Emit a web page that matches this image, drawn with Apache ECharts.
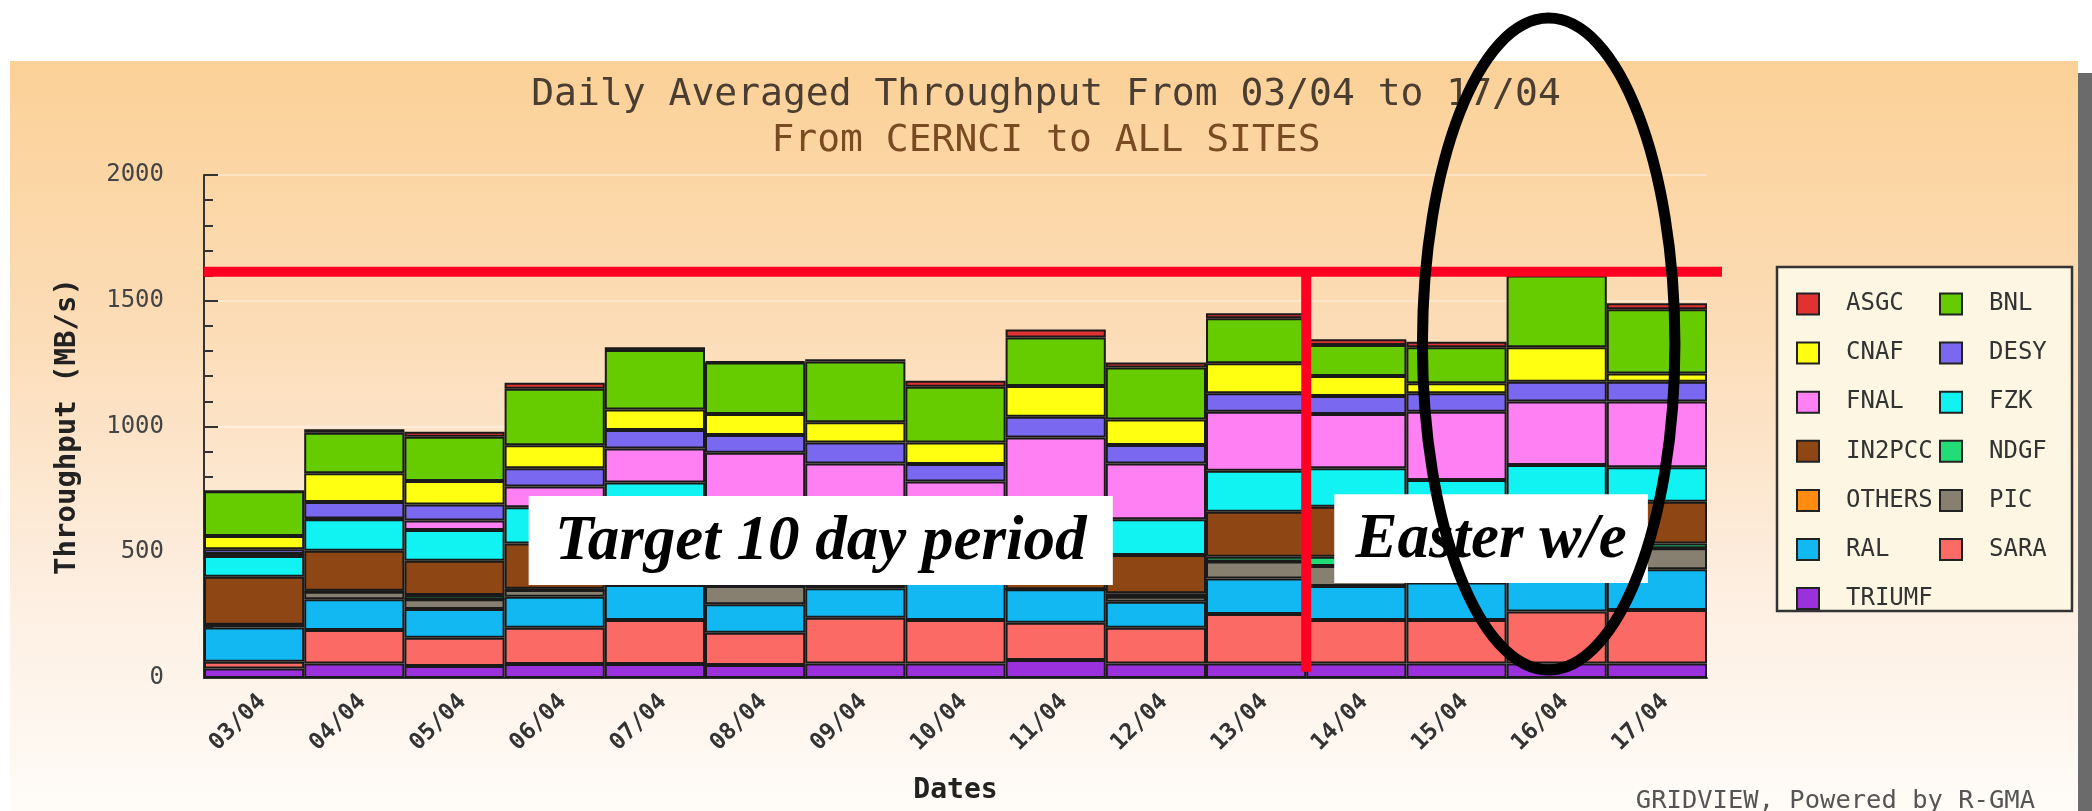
<!DOCTYPE html>
<html>
<head>
<meta charset="utf-8">
<script src="https://cdn.jsdelivr.net/npm/echarts@6/dist/echarts.min.js"></script>
<style>
  html, body { margin: 0; padding: 0; background: #fff; }
  #chart { width: 2092px; height: 811px; }
</style>
</head>
<body>
<div id="chart"></div>
<script>
// days on the x axis
const dates = ['03/04','04/04','05/04','06/04','07/04','08/04','09/04','10/04','11/04','12/04','13/04','14/04','15/04','16/04','17/04'];

// daily averaged throughput per site (MB/s)
const TRIUMF = [38, 58, 48, 56, 56, 52, 58, 58, 72, 58, 58, 58, 58, 58, 58];
const SARA   = [27, 133, 112, 144, 175, 128, 182, 173, 148, 142, 196, 173, 173, 206, 212];
const RAL    = [136, 122, 114, 123, 139, 113, 117, 149, 133, 103, 142, 135, 149, 168, 162];
const PIC    = [8, 30, 39, 27, 20, 73, 15, 10, 0, 20, 67, 79, 70, 84, 84];
const OTHERS = [0, 0, 0, 0, 0, 0, 0, 0, 0, 0, 0, 0, 0, 0, 0];
const NDGF   = [3, 4, 17, 5, 0, 0, 0, 0, 0, 14, 19, 37, 25, 19, 19];
const IN2PCC = [191, 159, 136, 180, 230, 120, 130, 120, 130, 152, 179, 199, 185, 155, 166];
const FZK    = [82, 125, 122, 144, 157, 110, 100, 110, 120, 142, 163, 153, 127, 157, 137];
const FNAL   = [8, 3, 38, 82, 136, 300, 251, 161, 353, 222, 235, 216, 272, 252, 261];
const DESY   = [19, 66, 64, 73, 73, 70, 83, 70, 83, 73, 73, 71, 73, 79, 79];
const CNAF   = [53, 114, 93, 91, 82, 84, 81, 85, 122, 102, 119, 80, 40, 137, 33];
const BNL    = [178, 161, 176, 225, 236, 204, 241, 222, 193, 207, 179, 123, 143, 285, 255];
const ASGC   = [0, 14, 20, 24, 11, 4, 9, 24, 32, 19, 20, 23, 22, 0, 24];

const yTicks = [0, 500, 1000, 1500, 2000];

// hand drawn annotations (x in day slots 0..15, y in MB/s)
const targetLine = [[0, 1615], [15.15, 1615]];
const easterLine = [[11, 1615], [11, 25]];
const targetBox = {x0: 3.24, x1: 9.07, y0: 370, y1: 724, text: 'Target 10 day period'};
const easterBox = {x0: 11.28, x1: 14.41, y0: 378, y1: 731, text: 'Easter w/e'};
const easterRing = {cx: 13.42, cy: 1328, rx: 1.26, ry: 1296};

const siteValues = {TRIUMF, SARA, RAL, PIC, OTHERS, NDGF, IN2PCC, FZK, FNAL, DESY, CNAF, BNL, ASGC};
const siteColors = {
  ASGC: '#e03232', BNL: '#66cc00', CNAF: '#ffff11', DESY: '#7a68f0',
  FNAL: '#ff80f2', FZK: '#11f2f2', IN2PCC: '#8e4614', NDGF: '#22dd77',
  OTHERS: '#ff8c11', PIC: '#878070', RAL: '#11b8f2', SARA: '#fb6a64', TRIUMF: '#9b30dd'
};
// bottom of the stack first
const stackOrder = ['TRIUMF','SARA','RAL','PIC','OTHERS','NDGF','IN2PCC','FZK','FNAL','DESY','CNAF','BNL','ASGC'];
const legendLeft = ['ASGC','CNAF','FNAL','IN2PCC','OTHERS','RAL','TRIUMF'];
const legendRight = ['BNL','DESY','FZK','NDGF','PIC','SARA'];

const mono = 'DejaVu Sans Mono';

const chart = echarts.init(document.getElementById('chart'));

const legendStyle = {
  orient: 'vertical',
  top: 292,
  padding: 0,
  itemWidth: 22,
  itemHeight: 21,
  itemGap: 25.1,
  icon: 'rect',
  selectedMode: false,
  itemStyle: {borderColor: '#222', borderWidth: 2},
  textStyle: {fontFamily: mono, fontSize: 24, color: '#333', lineHeight: 21, padding: [0, 0, 0, 22]}
};

const barSeries = stackOrder.map(name => ({
  name: name,
  type: 'bar',
  stack: 'sites',
  data: siteValues[name],
  barWidth: '100%',
  barCategoryGap: '0%',
  silent: true,
  itemStyle: {color: siteColors[name], borderColor: '#1a1a1a', borderWidth: 2}
}));

chart.setOption({
  animation: false,
  backgroundColor: '#ffffff',
  title: [
    {text: 'Daily Averaged Throughput From 03/04 to 17/04', left: 'center', top: 76, padding: 0,
     textStyle: {fontFamily: mono, fontSize: 38, fontWeight: 'normal', color: '#4a3d31'}},
    {text: 'From CERNCI to ALL SITES', left: 'center', top: 122, padding: 0,
     textStyle: {fontFamily: mono, fontSize: 38, fontWeight: 'normal', color: '#7a4b20'}},
    {text: 'GRIDVIEW, Powered by R-GMA', right: 57, top: 788, padding: 0,
     textStyle: {fontFamily: mono, fontSize: 25.5, fontWeight: 'normal', color: '#555'}}
  ],
  legend: [
    Object.assign({left: 1796, data: legendLeft}, legendStyle),
    Object.assign({left: 1939, data: legendRight}, legendStyle)
  ],
  grid: {left: 204, right: 385, top: 175, bottom: 133, containLabel: false},
  xAxis: [
    {
      type: 'category',
      data: dates,
      name: 'Dates',
      nameLocation: 'middle',
      nameGap: 99,
      nameTextStyle: {fontFamily: mono, fontSize: 28, fontWeight: 'bold', color: '#222'},
      axisLine: {lineStyle: {color: '#333', width: 2}},
      axisTick: {show: false},
      axisLabel: {rotate: 45, margin: 12, verticalAlign: 'top', fontFamily: mono, fontSize: 23, fontWeight: 'bold', color: '#333'}
    },
    {type: 'value', min: 0, max: 15, show: false}
  ],
  yAxis: {
    type: 'value',
    min: yTicks[0],
    max: yTicks[yTicks.length - 1],
    interval: 500,
    name: 'Throughput (MB/s)',
    nameLocation: 'middle',
    nameGap: 122,
    nameTextStyle: {fontFamily: mono, fontSize: 29, fontWeight: 'bold', color: '#222'},
    axisLine: {show: true, lineStyle: {color: '#333', width: 2}},
    axisTick: {show: true, inside: true, length: 14, lineStyle: {color: '#333', width: 2}},
    minorTick: {show: true, splitNumber: 5, length: 9, lineStyle: {color: '#333', width: 2}},
    splitLine: {show: true, lineStyle: {color: 'rgba(255,255,255,0.35)', width: 2}},
    axisLabel: {margin: 40, fontFamily: mono, fontSize: 24, color: '#444', formatter: v => String(v)}
  },
  graphic: [
    {id: 'panel', type: 'rect', z: -100, silent: true,
     shape: {x: 10, y: 61, width: 2068, height: 750},
     style: {fill: new echarts.graphic.LinearGradient(0, 0, 0, 1, [
       {offset: 0, color: '#fbd197'},
       {offset: 0.35, color: '#fcdcb6'},
       {offset: 0.7, color: '#fdeee0'},
       {offset: 1, color: '#fffcf8'}
     ])}},
    {id: 'shadow', type: 'rect', z: -100, silent: true,
     shape: {x: 2078, y: 73, width: 14, height: 738},
     style: {fill: '#6b6b6b'}},
    {id: 'legendBox', type: 'rect', z: 1, silent: true,
     shape: {x: 1777, y: 267, width: 295, height: 344},
     style: {fill: '#fdf6e3', stroke: '#333', lineWidth: 2.5}}
  ],
  series: barSeries
});

// place the red lines, label boxes and ring through the axes
const px = v => chart.convertToPixel({xAxisIndex: 1}, v);
const py = v => chart.convertToPixel({yAxisIndex: 0}, v);

function redLine(id, pts) {
  return {id: id, type: 'polyline', z: 10, silent: true,
          shape: {points: pts.map(p => [px(p[0]), py(p[1])])},
          style: {stroke: '#ff0022', lineWidth: 10, fill: null}};
}

function labelBox(id, b) {
  const x0 = px(b.x0), x1 = px(b.x1), y0 = py(b.y1), y1 = py(b.y0);
  return [
    {id: id + 'Rect', type: 'rect', z: 20, silent: true,
     shape: {x: x0, y: y0, width: x1 - x0, height: y1 - y0},
     style: {fill: '#ffffff'}},
    {id: id + 'Text', type: 'text', z: 21, silent: true,
     x: (x0 + x1) / 2, y: (y0 + y1) / 2 + 2,
     style: {text: b.text, fill: '#000', font: 'italic bold 63px "Liberation Serif"',
             textAlign: 'center', textVerticalAlign: 'middle'}}
  ];
}

const cx = px(easterRing.cx), cy = py(easterRing.cy);
chart.setOption({
  graphic: [redLine('targetLine', targetLine), redLine('easterLine', easterLine)]
    .concat(labelBox('target', targetBox))
    .concat(labelBox('easter', easterBox))
    .concat([
      {id: 'ring', type: 'ellipse', z: 30, silent: true,
       shape: {cx: cx, cy: cy, rx: px(easterRing.cx + easterRing.rx) - cx, ry: cy - py(easterRing.cy + easterRing.ry)},
       style: {fill: 'none', stroke: '#000', lineWidth: 11}}
    ])
});
</script>
</body>
</html>
